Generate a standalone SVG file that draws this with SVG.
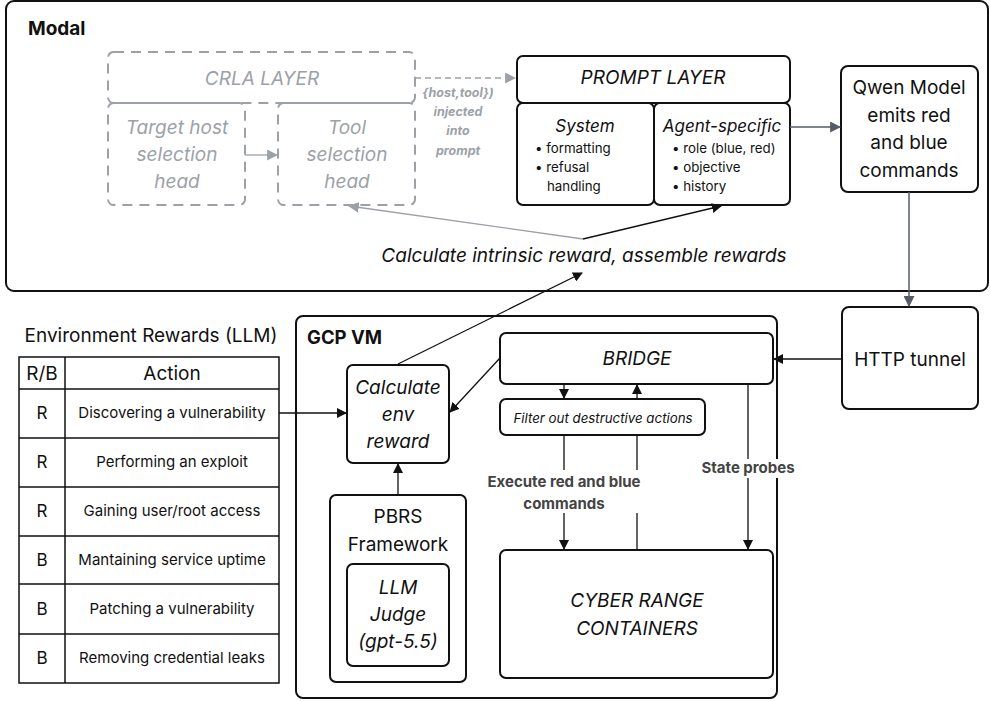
<svg xmlns="http://www.w3.org/2000/svg" width="990" height="701" viewBox="0 0 990 701">
<style>
text{font-family:Inter,"Noto Sans","Liberation Sans",sans-serif;fill:#111}
.box{fill:#fff;stroke:#111;stroke-width:2}
.dash{fill:none;stroke:#9ca1a8;stroke-width:2;stroke-dasharray:10 7}
.grey{fill:#9ca1a8;font-style:italic;font-size:19px}
.it{font-style:italic;font-size:19px}
.n18{font-size:19px}
.sm{font-size:13.3px}
.lbl{font-size:15px;font-weight:bold;fill:#444}
.inj{font-size:12.5px;font-weight:bold;font-style:italic;fill:#9ca1a8}
.c{text-anchor:middle}
.ln{fill:none;stroke:#111;stroke-width:1.3}
.lg{fill:none;stroke:#9ca1a8;stroke-width:1.3}
.ld{fill:none;stroke:#555c66;stroke-width:1.5}
.tbl{fill:#fff;stroke:#111;stroke-width:1.5}
</style>
<defs>
<marker id="ab" viewBox="0 0 10 10" refX="9" refY="5" markerWidth="10" markerHeight="10" markerUnits="userSpaceOnUse" orient="auto"><path d="M0,0L10,5L0,10z" fill="#111"/></marker>
<marker id="ag" viewBox="0 0 10 10" refX="9" refY="5" markerWidth="11" markerHeight="11" markerUnits="userSpaceOnUse" orient="auto"><path d="M0,0L10,5L0,10z" fill="#9ca1a8"/></marker>
<marker id="ad" viewBox="0 0 10 10" refX="9" refY="5" markerWidth="11" markerHeight="11" markerUnits="userSpaceOnUse" orient="auto"><path d="M0,0L10,5L0,10z" fill="#555c66"/></marker>
</defs>
<rect width="990" height="701" fill="#fff"/>

<g id="modal">
<rect x="6" y="1" width="982" height="290" rx="8" fill="#fff" stroke="#111" stroke-width="2"/>
<text x="28" y="35" font-size="19" font-weight="bold">Modal</text>
</g>

<g id="crla">
<rect class="dash" x="108" y="52" width="307" height="51" rx="6"/>
<text class="grey c" x="262" y="85">CRLA LAYER</text>
</g>
<g id="target-host">
<rect class="dash" x="108" y="103" width="137" height="102" rx="6"/>
<text class="grey c" x="177" y="134">Target host</text>
<text class="grey c" x="177" y="161">selection</text>
<text class="grey c" x="177" y="188">head</text>
</g>
<g id="tool-head">
<rect class="dash" x="278" y="103" width="137" height="102" rx="6"/>
<text class="grey c" x="347" y="134">Tool</text>
<text class="grey c" x="347" y="161">selection</text>
<text class="grey c" x="347" y="188">head</text>
</g>

<g id="prompt-layer">
<rect class="box" x="517" y="56" width="273" height="47" rx="6"/>
<text class="it c" x="653" y="84">PROMPT LAYER</text>
</g>
<g id="system">
<rect class="box" x="517" y="103" width="137" height="102" rx="6"/>
<text class="c" x="585" y="132" font-size="17" font-style="italic">System</text>
<text class="sm" x="535" y="153">• formatting</text>
<text class="sm" x="535" y="172">• refusal</text>
<text class="sm" x="547" y="191">handling</text>
</g>
<g id="agent-specific">
<rect class="box" x="654" y="103" width="136" height="102" rx="6"/>
<text class="c" x="722" y="132" font-size="17" font-style="italic">Agent-specific</text>
<text class="sm" x="672" y="153">• role (blue, red)</text>
<text class="sm" x="672" y="172">• objective</text>
<text class="sm" x="672" y="191">• history</text>
</g>
<g id="qwen">
<rect class="box" x="841" y="66" width="137" height="126" rx="7"/>
<text class="n18 c" x="909" y="94">Qwen Model</text>
<text class="n18 c" x="909" y="122">emits red</text>
<text class="n18 c" x="909" y="149">and blue</text>
<text class="n18 c" x="909" y="177">commands</text>
</g>
<g id="http">
<rect class="box" x="842" y="307" width="136" height="102" rx="7"/>
<text class="n18 c" x="910" y="366">HTTP tunnel</text>
</g>

<g id="gcp">
<rect x="296" y="316" width="481" height="382" rx="7" fill="#fff" stroke="#111" stroke-width="2"/>
<text x="307" y="344" font-size="18.5" font-weight="bold">GCP VM</text>
</g>
<g id="calc-env">
<rect class="box" x="347" y="365" width="102" height="98" rx="6"/>
<text class="it c" x="398" y="394">Calculate</text>
<text class="it c" x="398" y="421">env</text>
<text class="it c" x="398" y="448">reward</text>
</g>
<g id="pbrs">
<rect class="box" x="330" y="495" width="136" height="187" rx="6"/>
<text class="n18 c" x="398" y="523">PBRS</text>
<text class="n18 c" x="398" y="551">Framework</text>
</g>
<g id="llm-judge">
<rect class="box" x="347" y="564" width="102" height="102" rx="6"/>
<text class="it c" x="398" y="594">LLM</text>
<text class="it c" x="398" y="621">Judge</text>
<text class="it c" x="398" y="648">(gpt-5.5)</text>
</g>
<g id="bridge">
<rect class="box" x="500" y="333" width="273" height="51" rx="6"/>
<text class="it c" x="637" y="365">BRIDGE</text>
</g>
<g id="filter">
<rect class="box" x="500" y="399" width="205" height="36" rx="6"/>
<text class="c" x="603" y="423" font-size="13.3" font-style="italic">Filter out destructive actions</text>
</g>
<g id="cyber">
<rect class="box" x="500" y="550" width="273" height="128" rx="6"/>
<text class="it c" x="637" y="607">CYBER RANGE</text>
<text class="it c" x="637" y="635">CONTAINERS</text>
</g>

<g id="table">
<text class="n18 c" x="151" y="342">Environment Rewards (LLM)</text>
<rect class="tbl" x="19" y="357" width="260" height="326"/>
<g stroke="#111" stroke-width="1.5">
<line x1="65" y1="357" x2="65" y2="683"/>
<line x1="19" y1="389" x2="279" y2="389"/>
<line x1="19" y1="438" x2="279" y2="438"/>
<line x1="19" y1="487" x2="279" y2="487"/>
<line x1="19" y1="536" x2="279" y2="536"/>
<line x1="19" y1="584" x2="279" y2="584"/>
<line x1="19" y1="634" x2="279" y2="634"/>
</g>
<text class="n18 c" x="42" y="380">R/B</text>
<text class="n18 c" x="172" y="380">Action</text>
<g font-size="17" text-anchor="middle">
<text x="42" y="419">R</text>
<text x="42" y="468">R</text>
<text x="42" y="517">R</text>
<text x="42" y="566">B</text>
<text x="42" y="615">B</text>
<text x="42" y="664">B</text>
</g>
<g font-size="15" text-anchor="middle">
<text x="172" y="418">Discovering a vulnerability</text>
<text x="172" y="467">Performing an exploit</text>
<text x="172" y="516">Gaining user/root access</text>
<text x="172" y="565">Mantaining service uptime</text>
<text x="172" y="614">Patching a vulnerability</text>
<text x="172" y="663">Removing credential leaks</text>
</g>
</g>

<g id="connectors">
<line class="lg" x1="245" y1="155" x2="277" y2="155" marker-end="url(#ag)"/>
<line class="lg" x1="415" y1="78" x2="515" y2="78" stroke-dasharray="6 4" marker-end="url(#ag)"/>
<text class="inj c" x="458" y="97">{host,tool})</text>
<text class="inj c" x="458" y="116">injected</text>
<text class="inj c" x="458" y="135">into</text>
<text class="inj c" x="458" y="155">prompt</text>
<line class="ld" x1="790" y1="127" x2="840" y2="127" marker-end="url(#ad)"/>
<line class="ld" x1="909" y1="192" x2="909" y2="306" marker-end="url(#ad)"/>
<line class="ln" x1="842" y1="359" x2="774" y2="359" marker-end="url(#ab)"/>
<line class="lg" x1="583" y1="239" x2="349" y2="206" marker-end="url(#ag)"/>
<line class="ln" x1="583" y1="239" x2="721" y2="206" marker-end="url(#ab)"/>
<line class="ln" x1="398" y1="364" x2="582" y2="273" marker-end="url(#ab)"/>
<text x="584" y="262" class="c" font-size="19" font-style="italic">Calculate intrinsic reward, assemble rewards</text>
<line class="ln" x1="279" y1="413" x2="346" y2="413" marker-end="url(#ab)"/>
<line class="ln" x1="398" y1="495" x2="398" y2="464" marker-end="url(#ab)"/>
<line class="ln" x1="500" y1="358" x2="450" y2="412" marker-end="url(#ab)"/>
<line class="ln" x1="564" y1="384" x2="564" y2="398" marker-end="url(#ab)"/>
<line class="ln" x1="637" y1="399" x2="637" y2="385" marker-end="url(#ab)"/>
<line class="ln" x1="564" y1="435" x2="564" y2="549" marker-end="url(#ab)"/>
<line class="ln" x1="637" y1="435" x2="637" y2="550"/>
<line class="ln" x1="748" y1="384" x2="748" y2="549" marker-end="url(#ab)"/>
<rect x="486" y="470" width="158" height="43" fill="#fff"/>
<text class="lbl c" x="564" y="487">Execute red and blue</text>
<text class="lbl c" x="564" y="509">commands</text>
<rect x="700" y="459" width="96" height="19" fill="#fff"/>
<text class="lbl c" x="748" y="473">State probes</text>
</g>
</svg>
